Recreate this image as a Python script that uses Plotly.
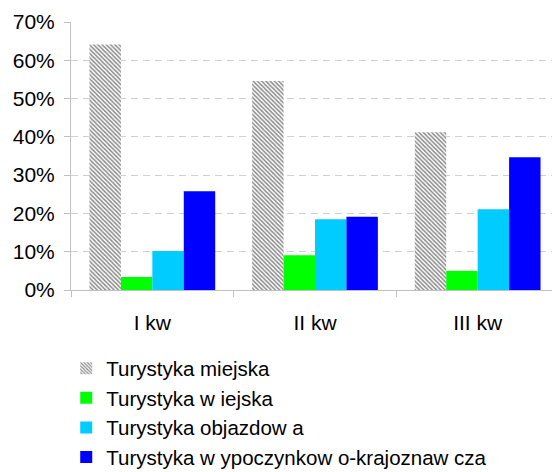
import plotly.graph_objects as go

categories = ["I kw", "II kw", "III kw"]
series_names = ["Turystyka miejska", "Turystyka w iejska", "Turystyka objazdow a",
                "Turystyka w ypoczynkow o-krajoznaw cza"]
miejska = [64.1, 54.6, 41.2]
wiejska = [3.4, 9.1, 5.0]
objazdowa = [10.2, 18.5, 21.1]
wypoczynkowa = [25.8, 19.1, 34.7]
y_ticks = [0, 10, 20, 30, 40, 50, 60, 70]

FONT = "Liberation Sans, Arial, sans-serif"

fig = go.Figure()
fig.add_trace(go.Bar(
    x=categories, y=miejska, name=series_names[0],
    marker=dict(color="white", line=dict(width=0),
                pattern=dict(shape="\\", size=3, solidity=0.5,
                             fgcolor="#8a8a8a", bgcolor="white", fillmode="replace")),
))
fig.add_trace(go.Bar(x=categories, y=wiejska, name=series_names[1],
                     marker=dict(color="#00ff00", line=dict(width=0))))
fig.add_trace(go.Bar(x=categories, y=objazdowa, name=series_names[2],
                     marker=dict(color="#00ccff", line=dict(width=0))))
fig.add_trace(go.Bar(x=categories, y=wypoczynkowa, name=series_names[3],
                     marker=dict(color="#0000ff", line=dict(width=0))))

fig.update_layout(
    width=552, height=472,
    margin=dict(l=71, r=0, t=22, b=182, autoexpand=False),
    paper_bgcolor="white", plot_bgcolor="white",
    barmode="group", bargap=0.227, bargroupgap=0,
    font=dict(family=FONT, size=21, color="#000000"),
    showlegend=True,
    legend=dict(orientation="v", xref="container", yref="container",
                x=0.12, xanchor="left", y=0.262, yanchor="top",
                font=dict(family=FONT, size=20.5, color="#000000"),
                traceorder="normal", bgcolor="rgba(0,0,0,0)"),
)
fig.update_xaxes(
    type="category", range=[-0.5, 2.457], automargin=False,
    showline=True, linecolor="#c0c0c0", linewidth=1,
    ticks="outside", ticklen=6, tickcolor="#c0c0c0", tickson="boundaries",
    showgrid=False, ticklabelstandoff=14,
    tickfont=dict(family=FONT, size=21, color="#000000"),
)
fig.update_yaxes(
    range=[0, 70], tickvals=y_ticks, ticktext=[f"{v}%" for v in y_ticks],
    automargin=False,
    showline=True, linecolor="#c0c0c0", linewidth=1,
    ticks="outside", ticklen=6, tickcolor="#c0c0c0",
    showgrid=True, gridcolor="#d0d0d0", gridwidth=1, griddash="7px,5px",
    zeroline=False, ticklabelstandoff=5,
    tickfont=dict(family=FONT, size=21, color="#000000"),
)

fig.write_html(
    "out.html",
    config={"displayModeBar": False},
    post_script="document.body.style.margin='0';document.body.style.padding='0';",
)
